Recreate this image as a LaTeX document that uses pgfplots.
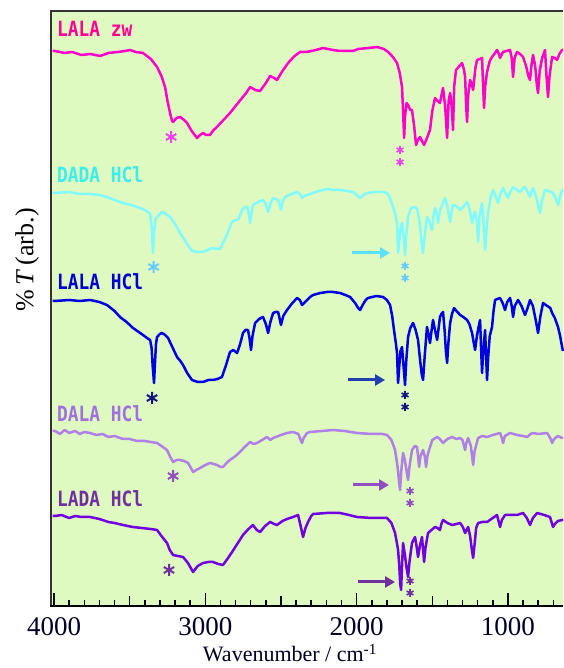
\documentclass[border=0pt]{standalone}
\usepackage{pgfplots}
\pgfplotsset{compat=1.18}
\usetikzlibrary{arrows.meta}
\usepackage{fontspec}
\setmainfont{Liberation Serif}
\newfontfamily\labfont{DejaVu Sans Mono}[FakeStretch=0.85]
\definecolor{bgg}{RGB}{223,250,192}
\definecolor{cA}{RGB}{255,0,204}
\definecolor{cAl}{RGB}{255,0,150}
\definecolor{cAs}{RGB}{238,68,238}
\definecolor{cB}{RGB}{128,250,255}
\definecolor{cBl}{RGB}{60,238,238}
\definecolor{cBs}{RGB}{102,204,255}
\definecolor{cBa}{RGB}{90,225,255}
\definecolor{cC}{RGB}{0,0,224}
\definecolor{cCl}{RGB}{0,0,204}
\definecolor{cCs}{RGB}{20,20,128}
\definecolor{cCa}{RGB}{32,64,176}
\definecolor{cD}{RGB}{176,128,232}
\definecolor{cDl}{RGB}{160,112,224}
\definecolor{cDs}{RGB}{144,80,192}
\definecolor{cE}{RGB}{112,0,224}
\definecolor{cEs}{RGB}{112,48,160}
\begin{document}
\begin{tikzpicture}[x=1pt,y=1pt]
\path[use as bounding box] (0,0) rectangle (563,668);
\begin{axis}[
  at={(51pt,62pt)}, anchor=south west,
  width=512pt, height=595pt, scale only axis,
  x dir=reverse, xmin=636, xmax=4020, ymin=0, ymax=595,
  axis background/.style={fill=bgg},
  axis line style={draw=none},
  xtick={1000,2000,3000,4000},
  minor xtick={700,800,900,1100,1200,1300,1400,1600,1700,1800,1900,2100,2200,2300,2400,2600,2700,2800,2900,3100,3200,3300,3400,3600,3700,3800,3900},
  extra x ticks={1500,2500,3500}, extra x tick labels={},
  extra x tick style={major tick length=10pt},
  xtick pos=bottom, ytick=\empty,
  tick align=inside, major tick length=13pt, minor tick length=6pt,
  tick style={black, line width=1.5pt},
  /pgf/number format/assume math mode=true,
  /pgf/number format/set thousands separator={},
  xticklabel style={font=\fontsize{27}{27}\selectfont, yshift=-8pt, text=black!85!blue},
  every axis plot/.append style={line width=2.5pt, line join=round},
  clip=false,
]
% LALA zw
\addplot[cA, sharp plot] coordinates {(4010,555)(3993,555)(3930,553)(3880,554)(3820,551)(3760,552)(3696,550)(3640,553)(3580,554)(3530,555)(3498,556)(3460,554)(3412,553)(3360,547)(3319,539)(3290,530)(3266,519)(3250,505)(3233,493)(3220,485)(3213,484)(3190,488)(3167,489)(3140,486)(3121,483)(3090,475)(3055,468)(3035,471)(3015,473)(2995,471)(2969,471)(2945,476)(2923,479)(2880,486)(2837,493)(2800,500)(2757,508)(2730,513)(2704,519)(2670,516)(2638,515)(2600,523)(2572,530)(2545,528)(2526,526)(2490,535)(2453,543)(2410,550)(2374,554)(2328,554)(2270,556)(2222,558)(2156,556)(2110,555)(2070,555)(2024,555)(1990,557)(1920,558)(1865,559)(1820,557)(1792,554)(1760,549)(1733,543)(1715,533)(1700,519)(1693,495)(1686,468)(1680,490)(1670,503)(1660,501)(1645,496)(1634,496)(1620,480)(1607,461)(1595,466)(1581,469)(1568,465)(1554,461)(1535,468)(1515,476)(1500,495)(1482,508)(1465,505)(1449,503)(1440,510)(1429,518)(1415,500)(1402,468)(1392,505)(1382,513)(1372,500)(1363,476)(1355,520)(1343,536)(1320,540)(1303,543)(1290,536)(1283,529)(1276,500)(1270,484)(1263,510)(1250,526)(1240,522)(1230,516)(1215,538)(1204,546)(1185,547)(1171,548)(1164,520)(1158,498)(1150,520)(1138,534)(1120,545)(1105,549)(1085,553)(1072,556)(1060,552)(1052,548)(1040,552)(1032,554)(1010,555)(986,556)(975,548)(966,529)(956,548)(940,554)(920,552)(900,549)(880,540)(865,530)(854,526)(845,540)(834,551)(820,540)(808,520)(801,513)(790,535)(774,548)(755,556)(745,530)(735,509)(725,530)(708,549)(690,548)(675,546)(660,552)(642,556)(636,556)};
% DADA HCl
\addplot[cB, sharp plot] coordinates {(4010,413)(3993,413)(3900,414)(3830,412)(3762,412)(3700,411)(3650,409)(3600,406)(3544,403)(3490,401)(3432,398)(3400,396)(3379,394)(3365,392)(3355,380)(3346,353)(3338,375)(3330,386)(3319,389)(3300,392)(3286,394)(3260,392)(3233,389)(3200,382)(3167,373)(3120,362)(3088,355)(3050,354)(3015,354)(2985,356)(2956,358)(2930,357)(2903,357)(2880,364)(2857,371)(2840,378)(2823,384)(2800,386)(2784,386)(2770,391)(2757,396)(2740,399)(2724,399)(2712,392)(2704,383)(2695,393)(2685,401)(2650,404)(2619,406)(2600,402)(2585,394)(2570,402)(2552,408)(2535,407)(2519,406)(2510,402)(2500,396)(2490,404)(2473,409)(2430,412)(2394,414)(2375,412)(2361,408)(2345,410)(2328,411)(2308,412)(2250,415)(2195,417)(2156,416)(2110,416)(2060,415)(2024,414)(2000,411)(1977,408)(1955,411)(1931,413)(1880,414)(1830,414)(1799,413)(1780,408)(1759,399)(1745,392)(1733,383)(1729,365)(1726,353)(1718,365)(1710,378)(1700,383)(1690,370)(1680,351)(1672,370)(1660,389)(1640,398)(1614,399)(1600,397)(1594,393)(1580,380)(1570,362)(1561,353)(1550,370)(1535,389)(1520,385)(1510,380)(1501,376)(1492,390)(1482,398)(1470,392)(1462,383)(1450,395)(1435,401)(1425,405)(1416,408)(1400,400)(1390,390)(1382,384)(1372,395)(1363,401)(1340,400)(1316,396)(1290,400)(1270,404)(1255,398)(1245,390)(1237,383)(1225,392)(1217,394)(1205,385)(1197,364)(1188,390)(1171,403)(1162,385)(1151,356)(1142,375)(1131,393)(1115,408)(1098,416)(1082,410)(1065,403)(1050,412)(1032,418)(1015,412)(999,408)(985,414)(966,419)(940,416)(920,414)(900,418)(887,419)(870,414)(854,409)(845,414)(834,418)(815,410)(800,400)(788,393)(775,405)(755,416)(730,415)(702,413)(685,408)(669,401)(655,410)(642,416)(636,416)};
% LALA HCl
\addplot[cC, sharp plot] coordinates {(4010,305)(3993,305)(3900,306)(3830,305)(3762,306)(3700,304)(3650,301)(3600,295)(3564,289)(3520,284)(3478,278)(3440,274)(3412,271)(3385,268)(3365,266)(3355,258)(3348,240)(3339,223)(3332,245)(3326,262)(3319,269)(3300,272)(3286,273)(3265,271)(3246,268)(3215,258)(3187,249)(3165,245)(3147,241)(3120,233)(3088,226)(3050,224)(3015,224)(2980,226)(2949,226)(2920,227)(2890,229)(2865,240)(2837,254)(2815,256)(2790,253)(2770,262)(2751,273)(2735,276)(2718,276)(2708,268)(2698,256)(2688,270)(2671,283)(2645,287)(2619,289)(2600,282)(2585,273)(2570,284)(2552,293)(2535,294)(2519,294)(2510,288)(2500,281)(2485,290)(2460,296)(2430,302)(2394,308)(2375,306)(2361,301)(2340,304)(2308,309)(2288,311)(2240,313)(2195,314)(2156,314)(2110,313)(2075,311)(2043,309)(2010,303)(1990,298)(1977,296)(1960,301)(1940,306)(1925,308)(1870,310)(1825,309)(1800,306)(1779,301)(1765,290)(1753,276)(1740,262)(1733,253)(1729,235)(1726,223)(1718,240)(1710,255)(1700,259)(1690,240)(1680,221)(1672,245)(1660,269)(1645,278)(1627,283)(1610,276)(1594,266)(1580,245)(1570,232)(1561,226)(1550,250)(1535,279)(1525,272)(1515,263)(1505,275)(1495,286)(1482,276)(1468,266)(1458,278)(1449,289)(1440,292)(1429,294)(1418,275)(1410,255)(1402,243)(1394,262)(1382,283)(1370,292)(1356,298)(1340,295)(1316,291)(1295,289)(1270,286)(1255,282)(1237,273)(1228,265)(1217,256)(1205,270)(1190,282)(1184,286)(1178,260)(1171,233)(1163,255)(1151,276)(1145,252)(1138,226)(1130,250)(1120,270)(1105,279)(1095,295)(1085,306)(1070,307)(1052,308)(1035,303)(1019,296)(1005,304)(986,308)(975,300)(966,289)(955,300)(933,306)(910,300)(887,291)(870,298)(854,306)(835,300)(815,285)(801,273)(785,290)(768,303)(740,300)(720,298)(708,293)(690,288)(669,279)(655,270)(642,259)(636,255)};
% DALA HCl
\addplot[cD, sharp plot] coordinates {(4010,175)(3993,175)(3960,172)(3930,176)(3900,173)(3860,175)(3830,172)(3800,174)(3762,173)(3720,171)(3680,172)(3640,169)(3600,170)(3544,167)(3500,167)(3450,165)(3400,165)(3360,164)(3319,163)(3290,160)(3253,156)(3235,150)(3213,144)(3190,146)(3167,146)(3140,145)(3114,143)(3095,138)(3081,134)(3060,136)(3035,138)(3000,141)(2969,143)(2945,142)(2923,141)(2900,139)(2883,139)(2860,143)(2837,146)(2800,150)(2771,154)(2740,159)(2704,164)(2680,162)(2658,163)(2625,166)(2592,169)(2570,166)(2552,168)(2500,171)(2460,173)(2420,174)(2385,172)(2370,166)(2361,163)(2350,168)(2328,173)(2308,174)(2230,175)(2156,176)(2080,175)(1997,173)(1900,172)(1830,172)(1799,171)(1770,166)(1746,156)(1730,140)(1720,125)(1713,116)(1705,135)(1693,153)(1680,145)(1670,135)(1660,126)(1650,140)(1634,156)(1615,160)(1601,159)(1594,150)(1587,139)(1578,150)(1561,156)(1550,150)(1541,139)(1532,150)(1521,156)(1500,166)(1468,169)(1450,167)(1429,163)(1400,167)(1369,169)(1340,167)(1316,168)(1300,166)(1283,156)(1275,163)(1263,168)(1245,160)(1237,150)(1230,141)(1220,155)(1197,168)(1170,170)(1138,169)(1100,171)(1052,173)(1040,168)(1032,163)(1020,170)(986,173)(940,171)(900,170)(873,169)(850,172)(834,173)(800,172)(741,173)(720,168)(708,163)(695,167)(670,170)(642,168)(636,168)};
% LADA HCl
\addplot[cE, sharp plot] coordinates {(4010,90)(3993,90)(3950,91)(3900,88)(3860,90)(3820,89)(3762,89)(3700,87)(3640,84)(3600,83)(3544,81)(3480,79)(3420,78)(3360,77)(3319,76)(3290,70)(3253,63)(3235,56)(3213,51)(3180,50)(3147,49)(3115,43)(3081,34)(3050,40)(3015,43)(2980,44)(2949,44)(2915,42)(2883,41)(2850,48)(2823,54)(2785,63)(2751,71)(2715,77)(2685,81)(2660,76)(2638,74)(2605,80)(2572,84)(2545,82)(2526,81)(2490,85)(2460,87)(2420,89)(2387,91)(2370,80)(2354,69)(2338,78)(2321,84)(2300,90)(2288,92)(2200,93)(2110,93)(2050,91)(1997,89)(1900,88)(1850,88)(1799,88)(1770,83)(1746,73)(1735,64)(1726,56)(1718,40)(1712,22)(1706,16)(1700,40)(1693,63)(1680,50)(1670,38)(1660,29)(1650,45)(1634,63)(1614,69)(1604,60)(1594,49)(1582,60)(1568,69)(1560,55)(1554,44)(1545,58)(1528,73)(1505,76)(1482,79)(1465,78)(1449,76)(1440,82)(1429,86)(1400,83)(1369,81)(1340,82)(1316,83)(1298,79)(1283,73)(1270,77)(1263,79)(1250,70)(1240,58)(1230,48)(1220,62)(1210,78)(1197,83)(1170,84)(1138,84)(1100,88)(1072,91)(1062,85)(1052,79)(1040,86)(1019,91)(980,91)(940,91)(900,93)(875,88)(854,81)(835,88)(807,93)(760,91)(722,89)(712,84)(702,79)(690,82)(670,85)(642,86)(636,86)};
% asterisks
\addplot[only marks, mark=asterisk, mark size=6pt, cAs, line width=2pt] coordinates {(3226,469)};
\addplot[only marks, mark=asterisk, mark size=4pt, cAs, line width=1.6pt] coordinates {(1713,456)(1713,444)};
\addplot[only marks, mark=asterisk, mark size=6pt, cBs, line width=2pt] coordinates {(3342,339)};
\addplot[only marks, mark=asterisk, mark size=4pt, cBs, line width=1.6pt] coordinates {(1680,340)(1680,328)};
\addplot[only marks, mark=asterisk, mark size=6pt, cCs, line width=2pt] coordinates {(3352,208)};
\addplot[only marks, mark=asterisk, mark size=4pt, cCs, line width=1.6pt] coordinates {(1680,211)(1680,199)};
\addplot[only marks, mark=asterisk, mark size=6pt, cDs, line width=2pt] coordinates {(3213,130)};
\addplot[only marks, mark=asterisk, mark size=4pt, cDs, line width=1.6pt] coordinates {(1647,115)(1647,103)};
\addplot[only marks, mark=asterisk, mark size=6pt, cEs, line width=2pt] coordinates {(3240,36)};
\addplot[only marks, mark=asterisk, mark size=4pt, cEs, line width=1.6pt] coordinates {(1647,25)(1647,13)};
% arrows
\addplot[cBa, line width=3pt, -{Triangle[length=10pt,width=11pt]}] coordinates {(2030,353)(1779,353)};
\addplot[cCa, line width=3pt, -{Triangle[length=10pt,width=11pt]}] coordinates {(2057,226)(1812,226)};
\addplot[cDs, line width=3pt, -{Triangle[length=10pt,width=11pt]}] coordinates {(2024,121)(1786,121)};
\addplot[cEs, line width=3pt, -{Triangle[length=10pt,width=11pt]}] coordinates {(1991,24)(1746,24)};
% labels
\node[anchor=base west, inner sep=0pt, text=cAl, font=\labfont\bfseries\fontsize{21}{21}\selectfont] at (axis cs:3980,569) {LALA zw};
\node[anchor=base west, inner sep=0pt, text=cBl, font=\labfont\bfseries\fontsize{21}{21}\selectfont] at (axis cs:3980,423) {DADA HCl};
\node[anchor=base west, inner sep=0pt, text=cCl, font=\labfont\bfseries\fontsize{21}{21}\selectfont] at (axis cs:3980,316) {LALA HCl};
\node[anchor=base west, inner sep=0pt, text=cDl, font=\labfont\bfseries\fontsize{21}{21}\selectfont] at (axis cs:3980,184) {DALA HCl};
\node[anchor=base west, inner sep=0pt, text=cEs, font=\labfont\bfseries\fontsize{21}{21}\selectfont] at (axis cs:3980,99) {LADA HCl};
\end{axis}
\draw[line width=2pt, black!80] (51,62) -- (51,657) -- (563,657);
\draw[line width=2pt, black] (50,62) -- (563,62);
\node[anchor=base, inner sep=0pt, font=\fontsize{22}{22}\selectfont, text=black!85!blue] at (290,6) {Wavenumber / cm\textsuperscript{-1}};
\node[rotate=90, inner sep=0pt, font=\fontsize{26}{26}\selectfont] at (27,408) {\%\,\textit{T}\,(arb.)};
\end{tikzpicture}
\end{document}
